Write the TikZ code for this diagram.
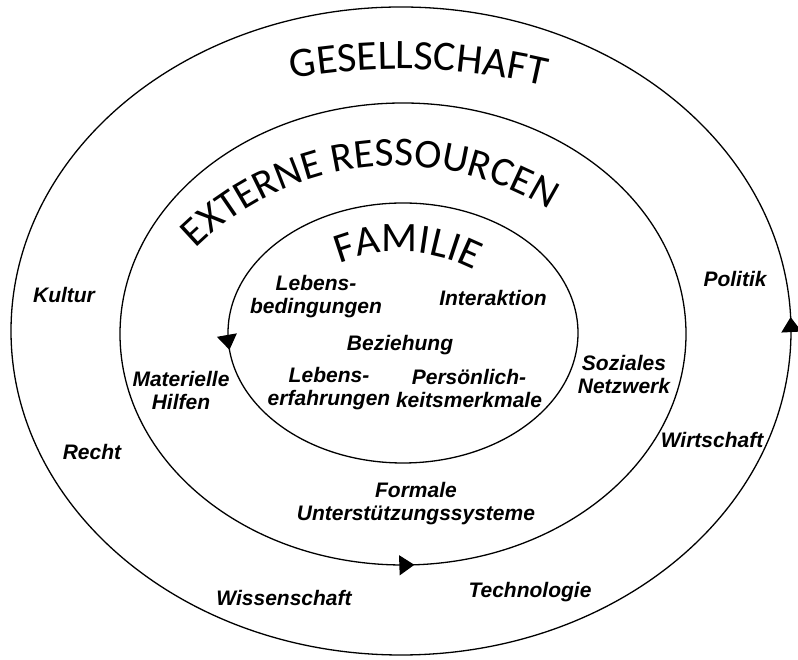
\documentclass[tikz,border=0pt]{standalone}
\usepackage{fontspec}
\newfontfamily\arcfont{Carlito}
\newfontfamily\labelfont{Liberation Sans}
\usetikzlibrary{decorations.text,decorations.markings,arrows.meta,calc,positioning}

\begin{document}
\begin{tikzpicture}[x=1pt,y=1pt,on grid,
	ring/.style={line width=1.3pt},
	lbl/.style={font=\labelfont\bfseries\itshape\fontsize{21}{23}\selectfont,align=center,inner sep=0pt},
	flow/.style={postaction={decorate,decoration={markings,
		mark=at position #1 with {\arrow{Triangle[length=15pt,width=20pt]}}}}}]
	\useasboundingbox (0,0) rectangle (798,660);
	\coordinate (fam) at (403,327);
	\coordinate (ext) at (403,326);
	\coordinate (ges) at (401,329);
	\draw[ring,flow=0.5176] (fam) ellipse [x radius=175pt,y radius=130pt];
	\draw[ring,flow=0.757] (ext) ellipse [x radius=283pt,y radius=231pt];
	\draw[ring,flow=0.0062] (ges) ellipse [x radius=390pt,y radius=324pt];
	\coordinate (gesarc) at (401,-34);
	\coordinate (extarc) at (397,208);
	\coordinate (famarc) at (399,246);
	\path[decorate,decoration={text along path,text align=center,
		text={|\arcfont\fontsize{42}{42}\selectfont|GESELLSCHAFT}}]
		($(gesarc)+(108:625pt)$) arc[start angle=108,end angle=68.8,radius=625pt];
	\path[decorate,decoration={text along path,text align=center,
		text={|\arcfont\fontsize{41}{41}\selectfont|EXTERNE RESSOURCEN}}]
		($(extarc)+(150:286pt)$) arc[start angle=150,end angle=42.6,radius=286pt];
	\path[decorate,decoration={text along path,text align=center,
		text={|\arcfont\fontsize{42}{42}\selectfont|FAMILIE}}]
		($(famarc)+(130:162pt)$) arc[start angle=130,end angle=44,radius=162pt];
	\node[lbl] (kultur) at (64,365) {Kultur};
	\node[lbl] (politik) at (735,381) {Politik};
	\node[lbl] (lbed) at (316,363) {Lebens-\\bedingungen};
	\node[lbl] (inter) at (493,362) {Interaktion};
	\node[lbl] (bez) at (400,315) {Beziehung};
	\node[lbl] (lerf) at (329,271) {Lebens-\\erfahrungen};
	\node[lbl] (pers) [right=140pt of lerf] {Persönlich-\\keitsmerkmale};
	\node[lbl] (soz) at (624,285) {Soziales\\Netzwerk};
	\node[lbl] (mat) at (181,269) {Materielle\\Hilfen};
	\node[lbl] (recht) at (92,208) {Recht};
	\node[lbl] (wirt) at (712,220) {Wirtschaft};
	\node[lbl] (formal) at (416,156) {Formale\\Unterstützungssysteme};
	\node[lbl] (wiss) at (284,62) {Wissenschaft};
	\node[lbl] (tech) at (530,68) {Technologie};
\end{tikzpicture}
\end{document}
